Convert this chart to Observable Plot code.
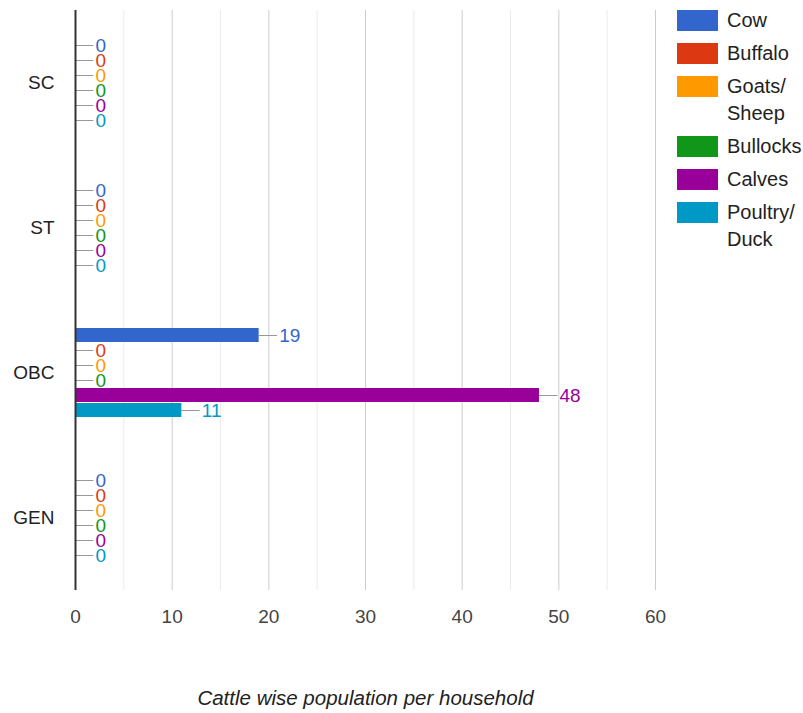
<!DOCTYPE html>
<html>
<head>
<meta charset="utf-8">
<script src="https://cdn.jsdelivr.net/npm/d3@7"></script>
<script src="https://cdn.jsdelivr.net/npm/@observablehq/plot@0.6"></script>
<style>
  body { margin: 0; background: #fff; font-family: "Liberation Sans", Arial, sans-serif; }
  #wrap { position: relative; width: 803px; height: 713px; }
  #legend { position: absolute; left: 677px; top: 7px; font-size: 20px; color: #222; }
  .item { display: flex; align-items: flex-start; margin-bottom: 6px; line-height: 27px; }
  .sw { width: 41px; height: 21px; margin-top: 3px; margin-right: 9px; flex: none; }
</style>
</head>
<body>
<div id="wrap"></div>
<script>
const categories = ["SC", "ST", "OBC", "GEN"];
const seriesNames = ["Cow", "Buffalo", "Goats/ Sheep", "Bullocks", "Calves", "Poultry/ Duck"];
const seriesColors = ["#3366cc", "#dc3912", "#ff9900", "#109618", "#990099", "#0099c6"];
const cow = [0, 0, 19, 0];
const buffalo = [0, 0, 0, 0];
const goatsSheep = [0, 0, 0, 0];
const bullocks = [0, 0, 0, 0];
const calves = [0, 0, 48, 0];
const poultryDuck = [0, 0, 11, 0];
const xTicks = [0, 10, 20, 30, 40, 50, 60];
const axisTitle = "Cattle wise population per household";

const seriesValues = [cow, buffalo, goatsSheep, bullocks, calves, poultryDuck];
const data = [];
categories.forEach((c, i) => {
  seriesNames.forEach((s, j) => {
    data.push({category: c, series: s, value: seriesValues[j][i]});
  });
});

const chart = Plot.plot({
  width: 803,
  height: 713,
  marginLeft: 75,
  marginRight: 148,
  marginTop: 10,
  marginBottom: 123,
  style: {fontSize: "19px", fontFamily: "'Liberation Sans', Arial, sans-serif", color: "#444", background: "#fff"},
  x: {domain: [0, 60], ticks: xTicks, tickSize: 0, tickPadding: 19, label: null},
  y: {domain: seriesNames, axis: null, paddingInner: 0.08, paddingOuter: 1.8},
  fy: {domain: categories, padding: 0, axis: "left", tickSize: 0, tickPadding: 21, label: null},
  color: {domain: seriesNames, range: seriesColors},
  marks: [
    Plot.ruleX(d3.range(5, 61, 10), {stroke: "#ebebeb", strokeWidth: 1}),
    Plot.ruleX(d3.range(10, 61, 10), {stroke: "#cccccc", strokeWidth: 1}),
    Plot.barX(data, {x: "value", y: "series", fy: "category", fill: "series"}),
    Plot.ruleY(data, {y: "series", fy: "category", x1: "value", x2: d => d.value + 1.9, stroke: "#999", strokeWidth: 1}),
    Plot.text(data, {x: "value", y: "series", fy: "category", text: d => String(d.value), dx: 20, textAnchor: "start", fill: "series", stroke: "#fff", strokeWidth: 2, fontSize: 19}),
    Plot.ruleX([0], {stroke: "#333", strokeWidth: 2}),
    Plot.text([axisTitle], {fy: () => "GEN", frameAnchor: "bottom", dy: 108, lineAnchor: "middle", text: d => d, fontStyle: "italic", fill: "#222", fontSize: 20.5})
  ]
});
document.getElementById("wrap").appendChild(chart);
chart.querySelectorAll('g[aria-label="fy-axis tick label"] text').forEach(t => t.setAttribute("fill", "#222"));

const legend = document.createElement("div");
legend.id = "legend";
seriesNames.forEach((s, j) => {
  const item = document.createElement("div");
  item.className = "item";
  const sw = document.createElement("div");
  sw.className = "sw";
  sw.style.background = seriesColors[j];
  const lab = document.createElement("div");
  lab.innerHTML = s.split(" ").join("<br>");
  item.appendChild(sw);
  item.appendChild(lab);
  legend.appendChild(item);
});
document.getElementById("wrap").appendChild(legend);
</script>
</body>
</html>
